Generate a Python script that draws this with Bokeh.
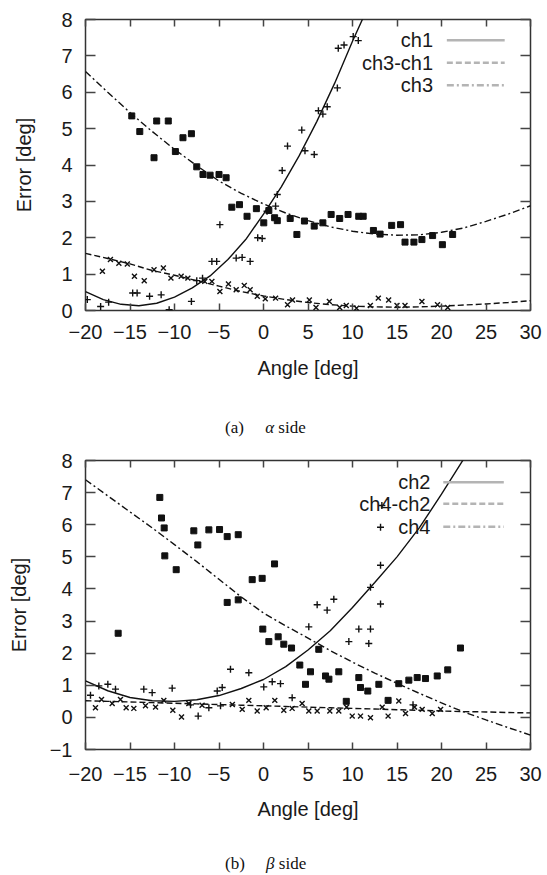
from bokeh.plotting import figure
from bokeh.models import Range1d, LinearAxis, SingleIntervalTicker, Div
from bokeh.layouts import column
from bokeh.core.properties import value
from bokeh.embed import file_html
from bokeh.resources import INLINE

# ---------------- (a) alpha side ----------------
a_ch1_x = [-19.8, -18.3, -17.4, -14.7, -14.2, -12.8, -11.5, -10.6, -8.1, -7.5, -6.85, -5.8, -5.26, -4.9,
           -3.07, -2.4, -1.5, -0.65, -0.15, 0.4, 1.36, 1.55, 2.1, 2.7, 4.3, 4.66, 5.7, 6.17, 6.67, 7.16,
           8.3, 8.4, 9.05, 10.08, 10.65]
a_ch1_y = [0.3, 0.11, 0.23, 0.48, 0.48, 0.39, 0.43, 0.02, 0.25, 0.82, 0.89, 1.35, 1.35, 2.36,
           1.44, 1.46, 1.35, 2.0, 1.98, 2.73, 2.87, 3.19, 3.85, 4.52, 4.96, 4.39, 4.29, 5.49, 5.4, 5.6,
           6.12, 7.21, 7.3, 7.53, 7.42]

a_ch31_x = [-18.1, -17.2, -16.25, -15.3, -14.5, -13.4, -12.3, -11.25, -10.4, -9.25, -8.5, -6.6, -5.8,
            -4.9, -3.94, -3.07, -2.16, -1.5, -0.7, 0.2, 1.36, 2.7, 3.26, 5.15, 5.9, 7.4, 8.56, 9.3,
            10.45, 12.0, 12.9, 14.06, 15.0, 15.9, 17.8, 19.55, 20.7]
a_ch31_y = [1.08, 1.4, 1.3, 1.28, 0.94, 0.82, 1.12, 1.17, 0.89, 0.94, 0.89, 0.8, 0.8,
            0.52, 0.73, 0.57, 0.69, 0.57, 0.39, 0.32, 0.34, 0.16, 0.29, 0.29, 0.08, 0.25, 0.08, 0.14,
            0.06, 0.14, 0.34, 0.29, 0.14, 0.14, 0.25, 0.16, 0.08]

a_ch3_x = [-14.8, -13.9, -12.3, -12.0, -10.7, -9.9, -9.05, -8.1, -7.5, -6.8, -6.0, -5.0, -4.2, -3.56,
           -2.7, -1.85, -0.8, 0.03, 0.6, 1.25, 1.55, 3.0, 3.75, 4.6, 5.7, 6.67, 7.6, 8.56, 9.5, 10.7,
           11.2, 12.35, 13.1, 14.4, 15.4, 15.9, 16.9, 17.8, 19.0, 20.1, 21.25]
a_ch3_y = [5.35, 4.92, 4.2, 5.21, 5.21, 4.37, 4.75, 4.86, 3.95, 3.74, 3.72, 3.74, 3.65, 2.84,
           2.91, 2.59, 2.8, 2.41, 2.75, 2.55, 2.47, 2.53, 2.09, 2.46, 2.32, 2.41, 2.64, 2.53, 2.64, 2.59,
           2.59, 2.2, 2.1, 2.34, 2.36, 1.88, 1.88, 1.95, 2.06, 1.81, 2.09]

# fitted curves
a_fit1_x = [-20, -18, -16, -14, -12, -10, -8, -6, -4, -2, 0, 2, 4, 6, 8, 10, 11.2]
a_fit1_y = [0.52, 0.3, 0.17, 0.13, 0.2, 0.37, 0.62, 0.95, 1.4, 1.95, 2.65, 3.4, 4.25, 5.2, 6.25, 7.4, 8.05]
a_fit_x = [-20, -17.5, -15, -12.5, -10, -7.5, -5, -2.5, 0, 2.5, 5, 7.5, 10, 12.5, 15, 17.5, 20, 22.5, 25, 27.5, 30]
a_fit31_y = [1.57, 1.43, 1.28, 1.1, 0.97, 0.82, 0.67, 0.52, 0.4, 0.3, 0.22, 0.16, 0.12, 0.1, 0.09, 0.1,
             0.12, 0.15, 0.18, 0.22, 0.27]
a_fit3_y = [6.57, 6.0, 5.44, 4.92, 4.43, 3.98, 3.56, 3.22, 2.93, 2.68, 2.47, 2.3, 2.18, 2.1, 2.07, 2.08,
            2.15, 2.27, 2.45, 2.65, 2.88]

# ---------------- (b) beta side ----------------
b_ch2_x = [-19.44, -18.5, -17.49, -16.63, -13.45, -12.51, -10.26, -8.2, -7.34, -6.14, -5.2, -4.83, -4.64,
           -3.71, -1.65, 0.03, 0.98, 1.91, 3.22, 5.09, 6.03, 7.15, 7.9, 9.59, 10.71, 11.83, 12.02, 13.15,
           12.02, 13.15, 13.15, 13.3, 16.8]
b_ch2_y = [0.69, 0.98, 1.03, 0.88, 0.88, 0.77, 0.91, 0.39, 0.04, 0.3, 0.82, 0.36, 0.93,
           1.5, 1.39, 0.95, 1.11, 1.05, 0.61, 2.82, 3.51, 3.34, 3.68, 2.36, 2.75, 2.3, 2.75, 3.53,
           4.05, 4.74, 5.92, 6.6, 0.39]

b_ch42_x = [-18.88, -18.2, -17.0, -16.07, -15.43, -14.57, -13.26, -12.13, -11.2, -10.19, -9.21, -8.39,
            -6.9, -3.5, -2.39, -1.65, -0.71, 0.3, 1.27, 2.28, 3.22, 4.34, 5.09, 6.03, 7.45, 8.46, 9.33,
            9.97, 10.9, 12.02, 13.34, 14.0, 15.2, 15.96, 16.97, 17.83, 18.96, 19.9]
b_ch42_y = [0.3, 0.56, 0.43, 0.56, 0.3, 0.28, 0.36, 0.32, 0.53, 0.22, 0.01, 0.43,
            0.38, 0.4, 0.25, 0.53, 0.2, 0.3, 0.53, 0.22, 0.28, 0.43, 0.2, 0.2, 0.2, 0.2, 0.32,
            0.04, 0.04, -0.01, 0.32, 0.04, 0.51, 0.12, 0.32, 0.25, 0.12, 0.25]

b_ch4_x = [-16.33, -11.65, -11.46, -11.16, -11.09, -9.81, -7.83, -7.38, -6.14, -4.94, -4.08, -2.84, -4.08,
           -2.84, -1.27, -0.15, 1.24, -0.08, 0.6, 1.65, 2.28, 3.15, 4.08, 4.72, 5.28, 6.21, 6.97, 7.35,
           8.46, 9.3, 10.71, 10.9, 11.72, 12.96, 14.0, 15.2, 16.33, 17.27, 18.2, 19.52, 20.7, 22.13]
b_ch4_y = [2.62, 6.85, 6.21, 5.9, 5.03, 4.6, 5.81, 5.37, 5.84, 5.85, 5.63, 5.69, 3.58,
           3.66, 4.29, 4.33, 4.78, 2.75, 2.36, 2.51, 2.28, 2.16, 1.63, 1.03, 1.42, 2.12, 1.29, 1.19,
           1.42, 0.5, 1.24, 0.93, 0.82, 1.03, 0.53, 1.05, 1.16, 1.24, 1.21, 1.29, 1.48, 2.16]

b_fit_x = [-20, -17.5, -15, -12.5, -10, -7.5, -5, -2.5, 0, 2.5, 5, 7.5, 10, 12.5, 15, 17.5, 20, 22.5, 25, 27.5, 30]
b_fit2_x = [-20, -17.5, -15, -12.5, -10, -7.5, -5, -2.5, 0, 2.5, 5, 7.5, 10, 12.5, 15, 17.5, 20, 22.5]
b_fit2_y = [1.14, 0.83, 0.62, 0.52, 0.5, 0.55, 0.68, 0.9, 1.18, 1.58, 2.1, 2.7, 3.42, 4.2, 5.0, 5.9, 6.95, 8.05]
b_fit42_y = [0.52, 0.5, 0.48, 0.46, 0.44, 0.42, 0.4, 0.38, 0.36, 0.34, 0.32, 0.3, 0.28, 0.26, 0.24, 0.22,
             0.2, 0.18, 0.17, 0.15, 0.14]
b_fit4_y = [7.4, 6.9, 6.4, 5.9, 5.38, 4.85, 4.3, 3.75, 3.25, 2.85, 2.47, 2.08, 1.72, 1.38, 1.06, 0.75,
            0.45, 0.17, -0.08, -0.32, -0.55]

x_ticks_interval = 5
y_ticks_interval = 1

FONT = "Liberation Sans"
INK = "#1a1a1a"
DASH = "6 3"
DASHDOT = "7 3 2 3"


def style_axes(p, x_in, y_in, x_std, x_lab_std, y_lab_std):
    p.xgrid.visible = False
    p.ygrid.visible = False
    p.outline_line_color = "#333333"
    p.outline_line_width = 1.5
    for ax in p.xaxis:
        ax.ticker = SingleIntervalTicker(interval=x_ticks_interval, num_minor_ticks=0)
    for ax in p.yaxis:
        ax.ticker = SingleIntervalTicker(interval=y_ticks_interval, num_minor_ticks=0)
    for ax, tin, std, lstd in ((p.xaxis[0], x_in, x_std, x_lab_std), (p.yaxis[0], y_in, 13, y_lab_std)):
        ax.axis_line_color = None
        ax.major_tick_in = tin
        ax.major_tick_out = 0
        ax.minor_tick_in = 0
        ax.minor_tick_out = 0
        ax.major_tick_line_color = "#444444"
        ax.major_tick_line_width = 1.5
        ax.major_label_text_font = FONT
        ax.major_label_text_font_size = "20px"
        ax.major_label_text_color = INK
        ax.major_label_standoff = std
        ax.axis_label_text_font = FONT
        ax.axis_label_text_font_size = "20px"
        ax.axis_label_text_font_style = "normal"
        ax.axis_label_text_color = INK
        ax.axis_label_standoff = lstd
    for loc, interval, tin in (("above", x_ticks_interval, x_in), ("right", y_ticks_interval, y_in)):
        m = LinearAxis(ticker=SingleIntervalTicker(interval=interval, num_minor_ticks=0))
        m.axis_line_color = None
        m.major_tick_in = tin
        m.major_tick_out = 0
        m.minor_tick_in = 0
        m.minor_tick_out = 0
        m.major_tick_line_color = "#444444"
        m.major_tick_line_width = 1.5
        m.major_label_text_font_size = "0px"
        m.major_label_text_alpha = 0
        m.major_label_standoff = 0
        p.add_layout(m, loc)


def legend(p, xs_text, x0, x1, ys, labels, dashes):
    p.text(x=[xs_text] * len(labels), y=ys, text=labels, text_align="right", text_baseline="middle",
           text_font=value(FONT), text_font_size="20px", text_color=INK)
    for y, d in zip(ys, dashes):
        p.line([x0, x1], [y, y], line_color="#b4b4b4", line_width=2.5, line_dash=d)


def caption(html, h):
    return Div(text=html, width=300, height=h, margin=(0, 0, 0, 225),
               styles={"font-family": "Liberation Serif", "font-size": "17px",
                       "line-height": "%dpx" % h, "color": "#111111", "white-space": "nowrap"})


# ---------- figure (a) ----------
pa = figure(width=547, height=414, x_range=Range1d(-20, 30), y_range=Range1d(0, 8),
            output_backend="svg", toolbar_location=None,
            min_border_left=70, min_border_right=17, min_border_top=19, min_border_bottom=104,
            x_axis_label="Angle [deg]", y_axis_label="Error [deg]")
style_axes(pa, 7, 10, 14, 15, 23)
pa.line(a_fit1_x, a_fit1_y, line_color="#111111", line_width=1.4)
pa.line(a_fit_x, a_fit31_y, line_color="#111111", line_width=1.4, line_dash=DASH)
pa.line(a_fit_x, a_fit3_y, line_color="#111111", line_width=1.4, line_dash=DASHDOT)
pa.scatter(a_ch1_x, a_ch1_y, marker="cross", size=7, line_color="#111111", line_width=1.4)
pa.scatter(a_ch31_x, a_ch31_y, marker="x", size=7, line_color="#111111", line_width=1.4)
pa.scatter(a_ch3_x, a_ch3_y, marker="square", size=6, fill_color="#111111", line_color="#111111")
legend(pa, 19.05, 20.6, 27.1, [7.43, 6.81, 6.19], ["ch1", "ch3-ch1", "ch3"], ["solid", DASH, DASHDOT])
cap_a = caption("(a)&emsp;&nbsp;<i>&alpha;</i> side", 28)

# ---------- figure (b) ----------
pb = figure(width=547, height=411, x_range=Range1d(-20, 30), y_range=Range1d(-1, 8),
            output_backend="svg", toolbar_location=None,
            min_border_left=85, min_border_right=17, min_border_top=18, min_border_bottom=104,
            x_axis_label="Angle [deg]", y_axis_label="Error [deg]")
style_axes(pb, 7, 10, 17, 14, 17)
pb.line(b_fit2_x, b_fit2_y, line_color="#111111", line_width=1.4)
pb.line(b_fit_x, b_fit42_y, line_color="#111111", line_width=1.4, line_dash=DASH)
pb.line(b_fit_x, b_fit4_y, line_color="#111111", line_width=1.4, line_dash=DASHDOT)
pb.scatter(b_ch2_x, b_ch2_y, marker="cross", size=7, line_color="#111111", line_width=1.4)
pb.scatter(b_ch42_x, b_ch42_y, marker="x", size=7, line_color="#111111", line_width=1.4)
pb.scatter(b_ch4_x, b_ch4_y, marker="square", size=6, fill_color="#111111", line_color="#111111")
legend(pb, 18.76, 20.2, 27.0, [7.32, 6.65, 5.94], ["ch2", "ch4-ch2", "ch4"], ["solid", DASH, DASHDOT])
cap_b = caption("(b)&emsp;&nbsp;<i>&beta;</i> side", 22)

layout = column(pa, cap_a, pb, cap_b, spacing=0)
open("out.html", "w").write(file_html(layout, INLINE))
